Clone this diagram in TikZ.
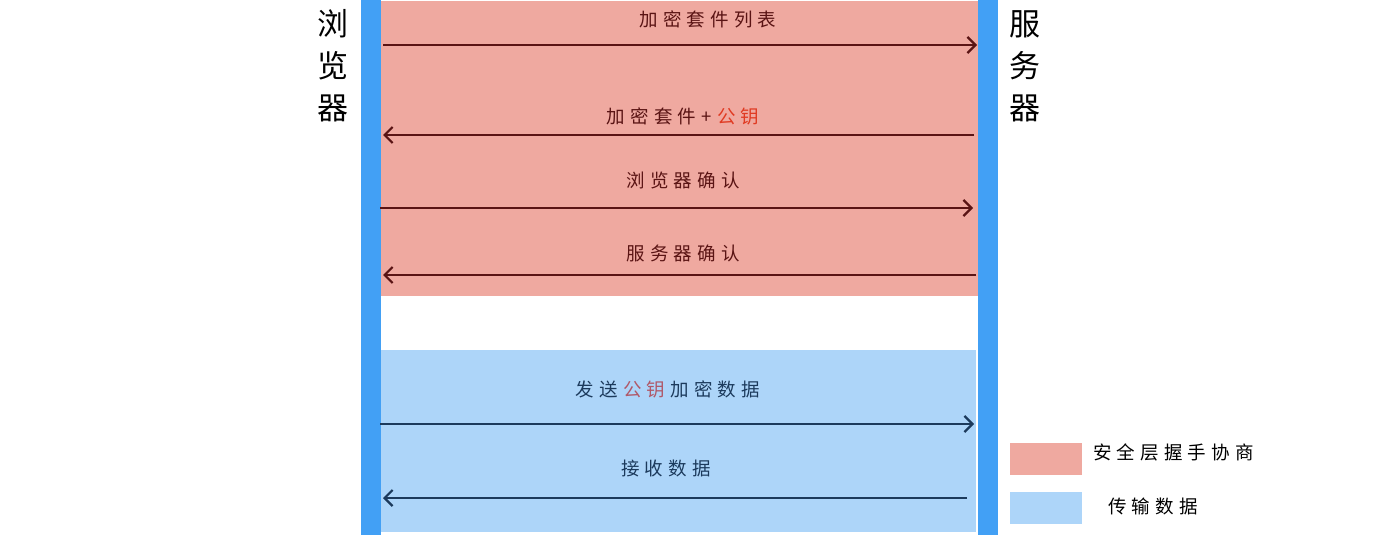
\documentclass[tikz,border=0pt]{standalone}
\usepackage{fontspec}
\setmainfont{Noto Sans CJK SC}
\newfontfamily\cjk[LetterSpace=28]{Noto Sans CJK SC}
\newfontfamily\cjkt[LetterSpace=0]{Noto Sans CJK SC}
\usetikzlibrary{arrows.meta}
\definecolor{pinkbg}{HTML}{EFA9A0}
\definecolor{bluebg}{HTML}{ADD5F9}
\definecolor{barblue}{HTML}{42A0F5}
\definecolor{darkred}{HTML}{5A1414}
\definecolor{navy}{HTML}{1C3A5C}
\definecolor{keyred}{HTML}{E03A22}
\definecolor{keyrose}{HTML}{B05868}
\newcommand{\lsp}{\kern0.28em}
\tikzset{
  x=1pt, y=-1pt,
  lbl/.style={font=\cjk\fontsize{18.5}{22}\selectfont, inner sep=0pt},
  title/.style={font=\cjkt\fontsize{31}{42}\selectfont, align=center, inner sep=0pt},
  msgred/.style={draw=darkred, line width=2.2pt, -{Straight Barb[length=8pt,width=16pt,line width=2.2pt]}},
  msgblue/.style={draw=navy, line width=2.2pt, -{Straight Barb[length=8pt,width=16pt,line width=2.2pt]}},
}
\begin{document}
\begin{tikzpicture}
\useasboundingbox (0,0) rectangle (1394,535);
% regions
\fill[pinkbg] (381,1) rectangle (978,296);
\fill[bluebg] (381,350) rectangle (976,532);
% bars
\fill[barblue] (361,0) rectangle (381,535);
\fill[barblue] (978,0) rectangle (998,535);
% lifeline coordinates
\coordinate (L1) at (383,45);  \coordinate (R1) at (977,45);
\coordinate (R2) at (974,135); \coordinate (L2) at (383,135);
\coordinate (L3) at (380,208); \coordinate (R3) at (973,208);
\coordinate (R4) at (976,275); \coordinate (L4) at (383,275);
\coordinate (L5) at (380,424); \coordinate (R5) at (974,424);
\coordinate (R6) at (967,498); \coordinate (L6) at (383,498);
\draw[msgred] (L1) -- (R1);
\draw[msgred] (R2) -- (L2);
\draw[msgred] (L3) -- (R3);
\draw[msgred] (R4) -- (L4);
\draw[msgblue] (L5) -- (R5);
\draw[msgblue] (R6) -- (L6);
% labels
\node[lbl, text=darkred] (t1) at (708,19) {加密套件列表};
\node[lbl, text=darkred] (t2) at (683,116) {加密套件+\lsp\textcolor{keyred}{公钥}};
\node[lbl, text=darkred] (t3) at (683,180) {浏览器确认};
\node[lbl, text=darkred] (t4) at (683,253) {服务器确认};
\node[lbl, text=navy] (t5) at (668,389) {发送\lsp\textcolor{keyrose}{公钥\lsp}加密数据};
\node[lbl, text=navy] (t6) at (666,468) {接收数据};
% titles
\node[title] (browser) at (333,66) {浏\\览\\器};
\node[title] (server) at (1025,66) {服\\务\\器};
% legend
\node[fill=pinkbg, minimum width=72pt, minimum height=32pt, inner sep=0pt] (lg1) at (1046,459) {};
\node[fill=bluebg, minimum width=72pt, minimum height=32pt, inner sep=0pt] (lg2) at (1046,508) {};
\node[lbl, anchor=west] (lt1) at (1093,452) {安全层握手协商};
\node[lbl, anchor=west] (lt2) at (1108,506) {传输数据};
\end{tikzpicture}
\end{document}
